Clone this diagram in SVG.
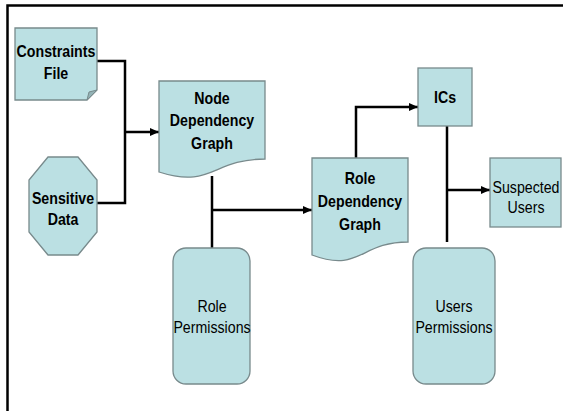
<svg xmlns="http://www.w3.org/2000/svg" width="565" height="411" viewBox="0 0 565 411">
  <defs>
    <style>
      .shape { fill: #bbe0e3; stroke: #788a8c; stroke-width: 1.3; }
      .fold { fill: #93b3b6; stroke: #788a8c; stroke-width: 1; }
      .label { font-family: "Liberation Sans", Arial, sans-serif; font-size: 16.5px; fill: #000; text-anchor: middle; }
      .bold { font-weight: bold; }
      .wire { fill: none; stroke: #000; stroke-width: 2.5; }
      .frame { fill: none; stroke: #000; stroke-width: 2.5; }
    </style>
    <marker id="arrow" markerUnits="userSpaceOnUse" markerWidth="10" markerHeight="10" refX="9" refY="5" orient="auto">
      <path d="M0,1 L9,5 L0,9 Z" fill="#000"/>
    </marker>
  </defs>

  <!-- frame (top and left edges) -->
  <path class="frame" d="M7.5,411 V5.5 H563"/>

  <!-- connectors -->
  <g id="connectors">
    <path class="wire" d="M97,61 H125 V203 H97"/>
    <path class="wire" d="M125,132 H159" marker-end="url(#arrow)"/>
    <path class="wire" d="M212,176 V248"/>
    <path class="wire" d="M212,210 H312" marker-end="url(#arrow)"/>
    <path class="wire" d="M356,158 V107 H418" marker-end="url(#arrow)"/>
    <path class="wire" d="M447,126 V242"/>
    <path class="wire" d="M447,190 H490" marker-end="url(#arrow)"/>
  </g>

  <!-- Constraints File: page with folded corner -->
  <g id="constraints-file">
    <path class="shape" d="M15,28 H97 V90 L87,100 H15 Z"/>
    <path class="fold" d="M87,100 L89,92 L97,90 Z"/>
    <text class="label bold" transform="translate(56 57) scale(0.86 1)">Constraints</text>
    <text class="label bold" transform="translate(56 79) scale(0.86 1)">File</text>
  </g>

  <!-- Sensitive Data: octagon -->
  <g id="sensitive-data">
    <path class="shape" d="M48,157 H78 L97,180 V232 L78,255 H48 L29,232 V180 Z"/>
    <text class="label bold" transform="translate(63 204) scale(0.86 1)">Sensitive</text>
    <text class="label bold" transform="translate(63 225) scale(0.86 1)">Data</text>
  </g>

  <!-- Node Dependency Graph: document -->
  <g id="node-dependency-graph">
    <path class="shape" d="M159,81 H265 V159 C212,159 212,189 159,172 Z"/>
    <text class="label bold" transform="translate(212 104) scale(0.86 1)">Node</text>
    <text class="label bold" transform="translate(212 126) scale(0.86 1)">Dependency</text>
    <text class="label bold" transform="translate(212 149) scale(0.86 1)">Graph</text>
  </g>

  <!-- Role Permissions: rounded box -->
  <g id="role-permissions">
    <rect class="shape" x="173" y="248" width="77" height="136" rx="13" ry="13"/>
    <text class="label" transform="translate(212 312) scale(0.86 1)">Role</text>
    <text class="label" transform="translate(212 333) scale(0.86 1)">Permissions</text>
  </g>

  <!-- Role Dependency Graph: document -->
  <g id="role-dependency-graph">
    <path class="shape" d="M312,158 H408 V242 C360,242 360,273 312,255 Z"/>
    <text class="label bold" transform="translate(360 184) scale(0.86 1)">Role</text>
    <text class="label bold" transform="translate(360 207) scale(0.86 1)">Dependency</text>
    <text class="label bold" transform="translate(360 230) scale(0.86 1)">Graph</text>
  </g>

  <!-- ICs -->
  <g id="ics">
    <rect class="shape" x="418" y="68" width="54" height="58"/>
    <text class="label bold" transform="translate(445 103) scale(0.86 1)">ICs</text>
  </g>

  <!-- Suspected Users -->
  <g id="suspected-users">
    <rect class="shape" x="490" y="158" width="71" height="69"/>
    <text class="label" transform="translate(526 193) scale(0.86 1)">Suspected</text>
    <text class="label" transform="translate(526 213) scale(0.86 1)">Users</text>
  </g>

  <!-- Users Permissions: rounded box -->
  <g id="users-permissions">
    <rect class="shape" x="413" y="248" width="82" height="136" rx="13" ry="13"/>
    <text class="label" transform="translate(454 312) scale(0.86 1)">Users</text>
    <text class="label" transform="translate(454 333) scale(0.86 1)">Permissions</text>
  </g>
</svg>
